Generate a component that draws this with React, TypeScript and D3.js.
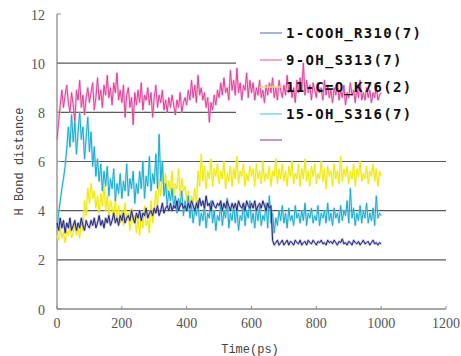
import React from "react";
import * as d3 from "d3";

const timeStep = 5;
const xTicks = [0, 200, 400, 600, 800, 1000, 1200];
const yTicks = [0, 2, 4, 6, 8, 10, 12];
const gridValues = [2, 4, 6, 8, 10];

const seriesNames = ["1-COOH_R310(7)", "9-OH_S313(7)", "11-C=O_K76(2)", "15-OH_S316(7)", ""];
const seriesColors = ["#25257a", "#e0409a", "#f0ea00", "#18acd0", "#a868a8"];
const haloColors = ["#8a8ac0", "#f2a6cc", "#f7f27a", "#8fd6ea", "#c8a0c8"];
const legendColors = ["#8a9ad0", "#e98cc0", "#f2d870", "#7fd6ea", "#b474b4"];

const cooh = [
  3.5, 3.2, 3.7, 3.3, 3.6, 3.1, 3.5, 3.3, 3.7, 3.2,
  3.4, 3.6, 3.2, 3.5, 3.3, 3.7, 3.4, 3.2, 3.6, 3.4,
  3.3, 3.6, 3.4, 3.7, 3.3, 3.5, 3.8, 3.4, 3.6, 3.3,
  3.7, 3.5, 3.8, 3.4, 3.6, 3.9, 3.5, 3.7, 3.4, 3.8,
  3.6, 3.9, 3.5, 3.7, 3.8, 3.6, 4.0, 3.7, 3.5, 3.9,
  3.7, 4.0, 3.6, 3.9, 3.8, 4.1, 3.7, 3.9, 4.0, 3.8,
  4.1, 3.9, 4.2, 3.8, 4.0, 4.3, 3.9, 4.1, 4.2, 4.0,
  4.3, 4.0, 4.2, 4.1, 4.4, 4.0, 4.2, 4.3, 4.1, 4.2,
  4.0, 4.3, 4.1, 4.4, 4.2, 4.0, 4.3, 4.1, 4.5, 4.2,
  4.4, 4.1, 4.6, 4.2, 4.3, 4.0, 4.4, 4.2, 4.1, 4.3,
  4.2, 4.4, 4.0, 4.3, 4.1, 4.4, 4.2, 4.0, 4.3, 4.1,
  4.3, 4.0, 4.4, 4.2, 4.1, 4.3, 4.0, 4.4, 4.2, 4.1,
  4.3, 4.1, 4.4, 4.0, 4.2, 4.3, 4.1, 4.4, 4.2, 4.0,
  4.3, 4.1, 4.2, 2.8, 2.6, 2.7, 2.8, 2.6, 2.7, 2.8,
  2.6, 2.7, 2.8, 2.6, 2.75, 2.7, 2.6, 2.8, 2.7, 2.65,
  2.8, 2.6, 2.7, 2.75, 2.6, 2.8, 2.7, 2.65, 2.8, 2.7,
  2.6, 2.75, 2.7, 2.8, 2.65, 2.7, 2.6, 2.8, 2.7, 2.75,
  2.65, 2.8, 2.7, 2.6, 2.75, 2.7, 2.85, 2.65, 2.7, 2.6,
  2.75, 2.7, 2.6, 2.8, 2.7, 2.65, 2.75, 2.6, 2.7, 2.8,
  2.65, 2.7, 2.75, 2.6, 2.7, 2.8, 2.65, 2.7, 2.6, 2.7,
  2.65,
];

const oh313 = [
  6.9, 7.6, 8.3, 8.9, 8.2, 8.7, 9.1, 8.4, 8.0, 8.8,
  8.3, 7.6, 8.9, 8.5, 9.3, 8.2, 8.7, 7.9, 8.6, 9.0,
  8.4, 8.8, 9.2, 8.1, 8.6, 9.4, 8.5, 8.9, 8.2, 9.1,
  8.7, 9.5, 8.6, 9.0, 8.3, 9.2, 8.8, 9.6, 8.5, 8.9,
  8.4, 9.1, 7.8, 8.7, 9.0, 8.2, 8.6, 7.5, 8.8, 8.3,
  8.9, 8.4, 9.2, 8.1, 8.7, 8.5, 9.0, 8.3, 8.8, 7.8,
  8.6, 9.1, 8.2, 8.7, 8.4, 8.9, 8.1, 8.5, 8.0, 8.6,
  8.2, 8.7, 8.3, 7.9, 8.5, 8.2, 8.8, 8.0, 8.4, 8.6,
  8.3, 8.9, 8.5, 9.3, 8.6, 9.1, 8.4, 9.5, 8.7, 9.0,
  8.5, 8.8, 8.2, 8.6, 7.6, 8.4, 8.1, 8.7, 8.3, 8.9,
  8.6, 9.2, 8.7, 9.4, 8.8, 9.0, 8.5, 9.7, 8.9, 9.3,
  8.7, 9.8, 8.8, 9.2, 8.5, 9.1, 8.9, 9.6, 8.6, 9.3,
  8.8, 9.2, 8.5, 9.0, 8.7, 9.3, 8.6, 8.9, 8.4, 9.1,
  8.7, 9.2, 8.8, 9.4, 8.6, 9.0, 8.5, 9.3, 8.9, 8.6,
  9.1, 8.7, 9.5, 8.8, 9.2, 8.6, 9.0, 8.4, 9.3, 8.8,
  9.4, 8.9, 10.0, 8.7, 9.3, 8.8, 9.1, 8.5, 9.2, 8.9,
  8.6, 9.2, 8.8, 9.0, 8.5, 9.3, 8.7, 9.1, 8.6, 8.9,
  8.4, 9.0, 8.7, 9.2, 8.5, 8.9, 8.6, 9.1, 8.3, 8.8,
  8.6, 9.2, 8.7, 8.9, 8.4, 9.0, 8.6, 9.3, 8.5, 8.8,
  8.5, 9.0, 8.6, 8.9, 8.4, 8.8, 8.6, 9.1, 8.5, 8.7,
  8.8,
];

const co76 = [
  3.0, 2.8, 3.3, 2.9, 3.1, 2.7, 3.2, 3.0, 3.4, 2.9,
  3.1, 3.5, 3.0, 3.3, 2.9, 3.6, 3.2, 4.4, 3.8, 4.9,
  4.3, 5.1, 4.5, 4.8, 4.1, 4.6, 3.9, 4.7, 4.2, 5.0,
  4.0, 4.6, 3.8, 4.4, 4.1, 3.7, 4.5, 3.6, 4.2, 3.5,
  4.0, 3.4, 4.3, 3.6, 3.9, 3.2, 4.1, 3.5, 3.8, 3.1,
  3.7, 3.0, 3.9, 3.3, 4.2, 3.4, 3.6, 3.1, 4.4, 3.5,
  4.0, 4.8, 4.2, 5.3, 4.6, 5.9, 4.9, 5.5, 4.7, 5.2,
  4.8, 5.6, 4.5, 5.1, 4.9, 5.7, 4.6, 5.3, 4.8, 5.0,
  4.4, 4.8, 4.1, 4.6, 4.3, 4.9, 4.2, 5.6, 5.0, 6.3,
  5.2, 5.8, 4.9, 5.6, 5.3, 6.1, 5.0, 5.7, 5.4, 5.9,
  5.1, 5.6, 5.3, 6.0, 4.9, 5.5, 5.2, 5.8, 5.0, 5.7,
  5.3, 6.2, 5.1, 5.6, 5.4, 5.9, 5.0, 5.5, 5.2, 5.8,
  5.4, 5.7, 5.0, 5.9, 5.3, 5.6, 5.1, 6.0, 5.2, 5.5,
  5.3, 5.8, 5.0, 5.6, 5.4, 6.1, 5.1, 5.7, 5.3, 5.9,
  5.2, 5.6, 5.0, 5.8, 5.4, 6.0, 5.1, 5.5, 5.3, 5.9,
  5.0, 5.7, 5.3, 6.1, 5.2, 5.6, 5.0, 5.8, 5.4, 5.9,
  5.1, 5.5, 5.3, 6.0, 5.2, 5.7, 4.9, 5.8, 5.4, 5.6,
  5.0, 5.9, 5.3, 5.6, 5.1, 6.2, 5.2, 5.7, 5.4, 5.8,
  5.1, 5.6, 5.3, 5.9, 5.0, 5.7, 5.4, 6.0, 5.2, 5.5,
  5.3, 5.8, 5.1, 5.6, 5.4, 5.9, 5.2, 5.7, 5.0, 5.6,
  5.4,
];

const oh316 = [
  3.3, 3.9, 4.4, 4.9, 5.3, 5.8, 6.5, 7.4, 6.6, 7.9,
  6.8, 7.6, 6.3, 7.2, 8.0, 6.9, 7.4, 6.1, 7.0, 7.8,
  6.4, 7.2, 5.8, 6.6, 5.4, 6.1, 5.2, 5.9, 4.8, 5.6,
  5.0, 5.8, 4.6, 5.3, 4.9, 5.7, 4.4, 5.1, 4.7, 5.5,
  4.5, 5.2, 4.8, 5.9, 4.6, 5.3, 4.9, 5.6, 4.3, 5.1,
  4.7, 5.6, 4.9, 6.0, 4.5, 5.4, 5.0, 6.2, 4.8, 5.5,
  5.1, 6.3, 4.9, 7.1, 5.2, 6.0, 4.6, 5.1, 4.2, 4.8,
  4.4, 4.9, 4.1, 4.6, 3.9, 4.5, 4.2, 4.8, 3.8, 4.4,
  4.0, 4.6, 3.7, 4.2, 3.5, 4.1, 3.8, 4.4, 3.4, 3.9,
  3.6, 4.2, 3.3, 3.9, 3.7, 4.4, 3.5, 4.0, 3.2, 3.8,
  3.6, 4.3, 3.4, 4.0, 3.7, 4.5, 3.3, 3.9, 3.6, 4.2,
  3.5, 4.1, 3.2, 3.8, 3.6, 4.3, 3.4, 4.0, 3.7, 4.4,
  3.5, 3.9, 3.3, 4.1, 3.6, 4.2, 3.4, 3.8, 3.6, 4.3,
  3.3, 4.6, 3.5, 3.9, 3.1, 3.7, 3.4, 4.0, 3.6, 4.2,
  3.5, 3.9, 3.3, 4.1, 3.6, 3.8, 3.4, 4.2, 3.7, 3.9,
  3.5, 4.0, 3.6, 4.3, 3.4, 3.9, 3.7, 4.1, 3.5, 3.8,
  3.6, 4.2, 3.4, 3.9, 3.7, 4.0, 3.5, 4.3, 3.6, 3.9,
  3.4, 4.1, 3.7, 3.9, 3.5, 4.2, 3.6, 4.0, 3.8, 4.4,
  3.5, 4.9, 3.7, 4.1, 3.4, 3.9, 3.6, 4.2, 3.5, 4.0,
  3.7, 4.3, 3.5, 3.9, 3.6, 4.1, 3.4, 4.6, 3.7, 3.9,
  3.8,
];

const seriesData = [cooh, oh313, co76, oh316];
const drawOrder = [1, 2, 3, 0];

const W = 461;
const H = 356;

export default function App() {
  const x = d3.scaleLinear().domain([0, 1200]).range([57, 446]);
  const y = d3.scaleLinear().domain([0, 12]).range([309, 14]);
  const line = d3
    .line<number>()
    .x((_, i) => x(i * timeStep))
    .y((d) => y(d));

  const legendY = [33, 60, 87, 114, 140];

  return (
    <div style={{ position: "absolute", left: 0, top: 0 }}>
      <svg width={W} height={H} style={{ display: "block", background: "#fff" }}>
        {gridValues.map((g) => (
          <line key={g} x1={x(0)} x2={x(1200)} y1={y(g)} y2={y(g)} stroke="#5a5a5a" strokeWidth={1.1} />
        ))}
        <rect x={236} y={20} width={225} height={133} fill="#fff" />
        <line x1={x(0)} x2={x(0)} y1={y(12)} y2={y(0)} stroke="#8a8a8a" strokeWidth={1.3} />
        <line x1={x(0)} x2={x(1200)} y1={y(0)} y2={y(0)} stroke="#8a8a8a" strokeWidth={1.3} />
        {yTicks.map((t) => (
          <line key={"yt" + t} x1={x(0)} x2={x(0) + 4} y1={y(t)} y2={y(t)} stroke="#8a8a8a" strokeWidth={1} />
        ))}
        {xTicks.map((t) => (
          <line key={"xt" + t} x1={x(t)} x2={x(t)} y1={y(0)} y2={y(0) - 3} stroke="#8a8a8a" strokeWidth={1} />
        ))}
        {yTicks.map((t) => (
          <text
            key={"yl" + t}
            x={45}
            y={y(t) + 1}
            textAnchor="end"
            dominantBaseline="central"
            fontFamily="'Liberation Serif', serif"
            fontSize={14}
            fill="#555"
          >
            {t}
          </text>
        ))}
        {xTicks.map((t) => (
          <text
            key={"xl" + t}
            x={x(t)}
            y={323}
            textAnchor="middle"
            dominantBaseline="central"
            fontFamily="'Liberation Serif', serif"
            fontSize={14}
            fill="#555"
          >
            {t}
          </text>
        ))}
        <text
          x={250}
          y={350}
          textAnchor="middle"
          dominantBaseline="central"
          fontFamily="'Liberation Mono', monospace"
          fontSize={12}
          fill="#444"
        >
          Time(ps)
        </text>
        <text
          transform={`translate(20,${(y(0) + y(12)) / 2}) rotate(-90)`}
          textAnchor="middle"
          dominantBaseline="central"
          fontFamily="'Liberation Mono', monospace"
          fontSize={12}
          fill="#444"
        >
          H Bond distance
        </text>
        {drawOrder.map((si) => (
          <g key={"s" + si}>
            <path
              d={line(seriesData[si]) || ""}
              fill="none"
              stroke={haloColors[si]}
              strokeWidth={2.4}
              strokeOpacity={0.55}
              strokeLinejoin="round"
            />
            <path
              d={line(seriesData[si]) || ""}
              fill="none"
              stroke={seriesColors[si]}
              strokeWidth={1}
              strokeLinejoin="round"
            />
          </g>
        ))}
        {seriesNames.map((name, i) => (
          <g key={"lg" + i}>
            <line x1={260} x2={282} y1={legendY[i]} y2={legendY[i]} stroke={legendColors[i]} strokeWidth={1.5} />
            <text
              x={286}
              y={legendY[i]}
              dominantBaseline="central"
              fontFamily="'DejaVu Sans Mono', monospace"
              fontWeight="bold"
              fontSize={14}
              letterSpacing={1.3}
              fill="#111"
            >
              {name}
            </text>
          </g>
        ))}
      </svg>
    </div>
  );
}
